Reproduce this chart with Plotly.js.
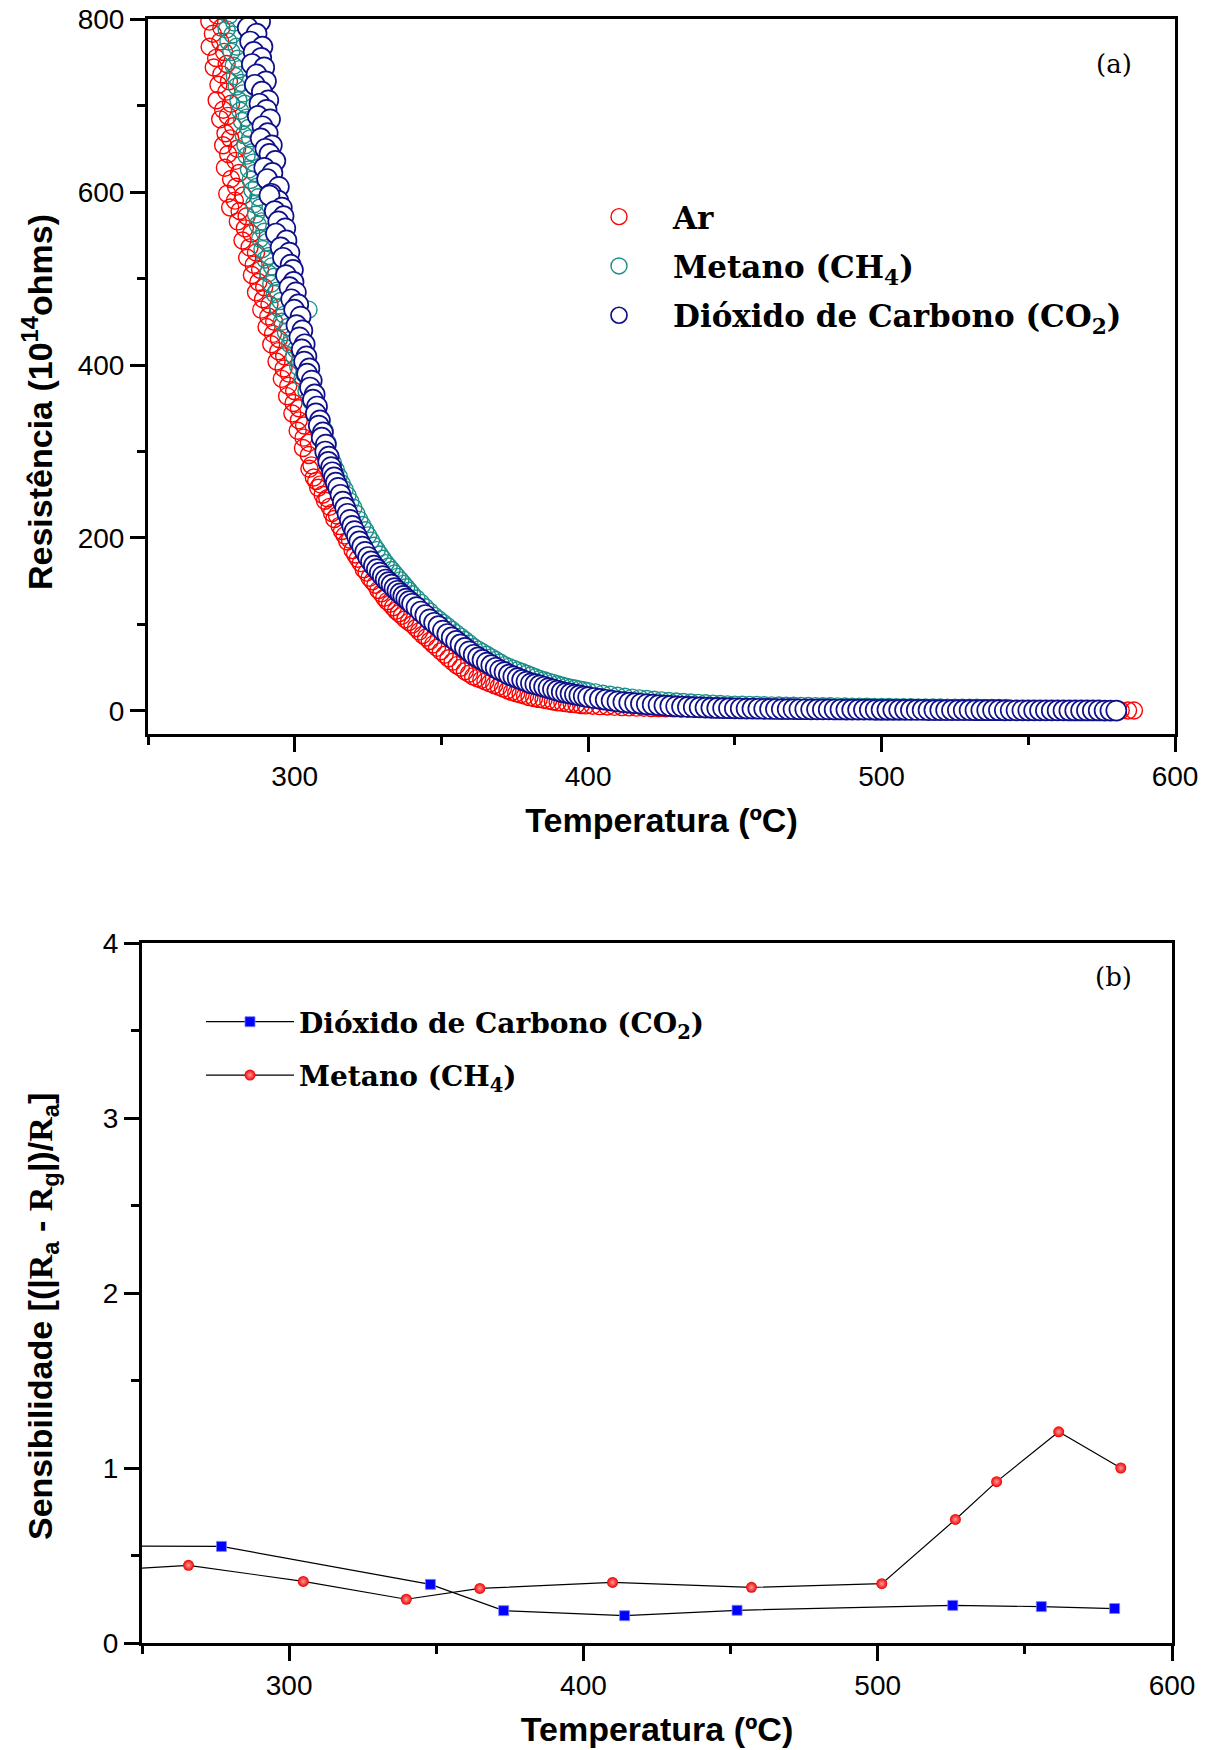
<!DOCTYPE html>
<html>
<head>
<meta charset="utf-8">
<script src="https://cdn.plot.ly/plotly-3.0.1.min.js"></script>
<style>html,body{margin:0;padding:0;background:#fff;}#chart{width:1212px;height:1750px;}</style>
</head>
<body>
<div id="chart"></div>
<script>
// ---------- (a) Resistance vs temperature ----------
const arTemp = [268.5,271.8,270.0,272.9,269.2,273.6,270.9,275.0,272.1,274.6,271.0,275.9,273.2,276.8,272.4,275.0,277.6,274.0,276.7,273.4,278.3,275.6,277.2,274.6,279.0,276.4,278.0,275.6,280.4,277.3,279.8,276.2,281.0,278.3,280.0,277.0,279.6,282.4,278.0,281.2,283.6,280.6,283.0,285.2,282.2,284.6,286.8,283.8,286.0,288.2,285.4,287.6,289.6,286.8,289.2,291.4,288.6,291.0,293.0,290.4,292.6,294.6,292.0,294.4,296.4,293.8,296.2,298.0,295.6,297.8,299.8,297.4,299.6,301.4,299.2,301.4,303.2,301.0,303.0,304.8,302.8,304.8,
  305.0,305.7,306.5,307.3,308.0,308.8,309.5,310.3,311.1,311.9,312.7,313.5,314.4,315.3,316.1,317.0,317.9,318.8,319.7,320.6,321.5,322.5,323.5,324.5,325.5,326.5,327.5,328.5,329.5,330.5,331.5,332.5,333.5,334.5,335.5,336.5,337.7,338.9,340.1,341.3,
  342.4,343.6,344.8,346.0,347.2,348.5,349.8,351.1,352.4,353.8,355.2,356.6,358.0,359.4,360.8,362.2,363.6,365.0,366.5,368.0,369.5,371.0,372.5,374.0,375.5,377.0,378.5,380.0,381.6,383.2,384.8,386.4,388.0,389.6,391.2,392.8,394.4,396.0,397.6,399.2,
  401.5,404,406.5,409,411.5,414,416.5,419,421.5,424,426.5,429,431.5,434,436.5,439,441.5,444,446.5,449,451.5,454,456.5,459,461.5,464,466.5,469,471.5,474,476.5,479,481.5,484,486.5,489,491.5,494,496.5,499,501.5,504,506.5,509,511.5,514,516.5,519,521.5,524,526.5,529,531.5,534,536.5,539,541.5,544,546.5,549,551.5,554,556.5,559,561.5,564,566.5,569,571.5,574,576.5,579,581.5,584,586];
const arRes = [842,836,826,818,812,804,797,790,783,774,768,762,755,748,744,736,728,724,716,706,702,695,688,684,676,668,662,654,650,644,636,628,622,615,606,598,590,596,582,578,572,566,558,552,544,536,530,524,516,510,504,496,490,484,476,470,464,456,450,444,436,430,424,416,410,404,396,390,384,376,370,364,356,350,344,336,330,324,316,310,304,296,
  280,284,270,266,258,262,250,243,246,236,229,222,226,214,208,203,196,198,186,181,176,171,164,160,154,150,146,140,136,131,127,124,120,116,113,110,106,103,100,96,
  92,88,85,81,77,73,69,65,61,57,53,50,46,43,40,38,36,34,32,30,28,26,24,22,20.5,19,17.5,16,15,14,13,12,11,10,9.4,8.8,8.2,7.6,7,6.5,
  6.0,5.6,5.2,4.8,4.5,4.2,3.9,3.7,3.5,3.3,3.1,3.0,2.8,2.7,2.6,2.5,2.4,2.3,2.2,2.1,2.0,1.9,1.9,1.8,1.7,1.7,1.6,1.6,1.5,1.5,1.4,1.4,1.3,1.3,1.3,1.2,1.2,1.2,1.1,1.1,1.1,1.0,1.0,1.0,1.0,0.9,0.9,0.9,0.9,0.8,0.8,0.8,0.8,0.8,0.7,0.7,0.7,0.7,0.7,0.7,0.6,0.6,0.6,0.6,0.6,0.6,0.6,0.5,0.5,0.5,0.5,0.5,0.5,0.5,0.5];

const ch4Temp = [275.0,277.2,276.4,278.6,275.8,277.6,279.4,276.8,278.8,277.4,280.2,278.4,280.6,279.2,281.2,279.6,281.8,280.2,282.4,280.8,283.0,281.4,283.6,282.0,284.2,282.6,284.8,283.2,285.4,283.6,285.8,284.4,286.4,285.0,287.0,285.6,287.6,286.2,288.2,286.8,288.8,287.4,289.6,288.2,290.4,289.0,291.2,290.0,292.2,291.0,293.0,292.0,294.0,293.2,295.2,294.4,304.7,296.4,295.6,297.6,297.0,299.0,298.4,300.4,299.8,301.8,301.2,303.2,302.6,304.6,304.0,306.0,305.6,307.4,307.0,308.8,308.4,310.2,309.8,311.2,
  313,314,315,316,317,318,319,320,321,322,323,324,325,326,327,328,329,330,331,332,333,334,335,336,337,338,339,340,
  341.5,343,344.5,346,347.5,349,350.5,352,353.5,355,356.5,358,359.5,361,362.5,364,365.5,367,368.5,370,371.5,373,374.5,376,377.5,379,380.5,382,383.5,385,386.5,388,389.5,391,392.5,394,395.5,397,398.5,400,
  402.5,405,407.5,410,412.5,415,417.5,420,422.5,425,427.5,430,432.5,435,437.5,440,442.5,445,447.5,450,452.5,455,457.5,460,462.5,465,467.5,470,472.5,475,477.5,480,482.5,485,487.5,490,492.5,495,497.5,500,502.5,505,507.5,510,512.5,515,517.5,520,522.5,525,527.5,530,532.5,535,537.5,540,542.5];
const ch4Res = [842,834,824,816,810,804,796,788,782,774,768,762,754,746,742,734,726,722,714,706,702,694,686,682,674,666,662,654,646,642,634,626,622,614,606,602,594,586,582,574,566,562,554,546,542,534,526,522,514,506,502,494,486,482,474,466,464,458,450,444,438,430,424,418,410,404,398,390,384,378,370,364,358,350,344,338,330,324,318,310,
  287,279,271,263,256,249,242,235,228,221,215,209,203,197,191,186,181,176,171,167,163,159,155,151,147,143,139,135,
  130,125,120,115,110,106,102,98,94,90,86,82,78,74,71,68,65,62,59,56,53,51,49,47,45,43,41,39,37,35.5,34,32.5,31,29.5,28,27,26,25,24,23,
  21.5,20,18.8,17.6,16.5,15.5,14.6,13.8,13,12.3,11.6,11,10.4,9.9,9.4,8.9,8.5,8.1,7.7,7.4,7.3,7.1,6.9,6.7,6.5,6.3,6.1,6.0,5.9,5.8,5.6,5.5,5.4,5.3,5.2,5.1,5.0,4.9,4.8,4.7,4.6,4.5,4.4,4.3,4.2,4.1,4.0,3.95,3.9,3.85,3.8,3.75,3.7,3.65,3.6,3.55,3.5];

const co2Temp = [283.0,286.2,284.8,287.4,282.6,285.6,288.2,284.0,287.0,284.8,289.0,286.0,288.6,285.4,289.6,287.0,290.2,286.4,288.8,291.0,288.0,290.4,287.4,291.6,289.0,290.8,288.4,292.2,290.0,291.4,293.4,289.6,292.4,290.6,294.6,292.0,294.4,291.4,295.6,293.2,296.2,294.4,296.8,293.6,297.2,295.2,298.2,296.0,298.6,299.4,297.0,299.6,298.2,300.4,298.8,301.2,299.8,302.0,
  300.6,302.6,301.6,303.4,302.4,304.0,303.2,305.0,304.2,305.8,305.2,306.8,306.2,307.6,307.2,308.6,308.2,309.6,309.2,310.6,310.4,311.6,311.4,312.4,312.8,313.4,314.0,314.8,315.6,316.4,317.2,318.0,318.8,319.6,320.4,321.2,322.0,323.0,324.0,325.0,326.0,327.0,328.0,329.0,330.0,331.0,332.0,333.0,334.0,335.0,336.0,337.0,338.0,339.0,340.0,
  341.5,343.0,344.5,346.0,347.5,349.0,350.5,352.0,353.5,355.0,356.5,358.0,359.5,361.0,362.5,364.0,365.5,367.0,368.5,370.0,371.5,373.0,374.5,376.0,377.5,379.0,380.5,382.0,383.5,385.0,386.5,388.0,389.5,391.0,392.5,394.0,395.5,397.0,398.5,400.0,
  402,404,406,408,410,412,414,416,418,420,422,424,426,428,430,432,434,436,438,440,442,444,446,448,450,452,454,456,458,460,462,464,466,468,470,472,474,476,478,480,482,484,486,488,490,492,494,496,498,500,502,504,506,508,510,512,514,516,518,520,522,524,526,528,530,532,534,536,538,540,542,544,546,548,550,552,554,556,558,560,562,564,566,568,570,572,574,576,578,580];
const co2Res = [842,836,826,818,812,804,797,790,783,774,768,762,755,748,744,736,728,724,716,706,702,695,688,684,676,668,662,654,650,644,636,628,622,615,606,598,590,596,582,578,572,566,558,552,544,536,530,524,516,510,504,496,490,484,476,470,464,456,
  446,440,432,424,418,410,404,396,390,382,374,366,360,352,344,336,330,322,316,308,300,294,288,282,276,270,264,258,250,242,235,228,221,214,208,202,196,190,184,178,173,168,164,160,156,152,149,146,142,139,136,133,130,127,124,
  120,115,111,106,102,98,93,89,85,81,77,73,69,65,62,59,56,53,50,47,45,42,40,38,36,34,32,31,29.5,28,26.5,25,23.5,22,21,20,19,18,17,16,
  15,14,13,12,11,10.3,9.6,9,8.4,7.8,7.3,6.8,6.3,5.8,5.4,5.0,4.7,4.4,4.1,3.9,3.7,3.5,3.3,3.2,3.0,2.9,2.8,2.7,2.6,2.5,2.4,2.3,2.2,2.2,2.1,2.0,2.0,1.9,1.9,1.8,1.8,1.7,1.7,1.6,1.6,1.5,1.5,1.5,1.4,1.4,1.4,1.3,1.3,1.3,1.2,1.2,1.2,1.1,1.1,1.1,1.1,1.0,1.0,1.0,1.0,0.9,0.9,0.9,0.9,0.9,0.8,0.8,0.8,0.8,0.8,0.7,0.7,0.7,0.7,0.7,0.7,0.6,0.6,0.6,0.6,0.6,0.6,0.5,0.5,0.5];

// ---------- (b) Sensitivity vs temperature ----------
const sensCo2Temp = [235, 277.0, 348.0, 372.9, 414.0, 452.2, 525.5, 555.6, 580.5];
const sensCo2 = [0.554, 0.552, 0.335, 0.185, 0.156, 0.187, 0.215, 0.208, 0.197];
const sensCh4Temp = [235, 265.8, 304.8, 339.8, 364.8, 409.9, 457.1, 501.4, 526.4, 540.4, 561.5, 582.6];
const sensCh4 = [0.413, 0.444, 0.352, 0.250, 0.312, 0.346, 0.318, 0.339, 0.706, 0.922, 1.207, 1.000];

const names = {
  ar: 'Ar',
  ch4: 'Metano (CH<sub>4</sub>)',
  co2: 'Dióxido de Carbono (CO<sub>2</sub>)'
};
const titles = {
  temp: 'Temperatura (ºC)',
  res: 'Resistência (10<sup>14</sup>ohms)',
  sens: 'Sensibilidade [(|<span style="font-family:Liberation Serif">R</span><sub>a</sub> - <span style="font-family:Liberation Serif">R</span><sub>g</sub>|)/<span style="font-family:Liberation Serif">R</span><sub>a</sub>]'
};

const W = 1212, H = 1750;
const px = v => v / W;
const py = v => 1 - v / H;

const sansFont = 'Liberation Sans, Arial, sans-serif';
const serifFont = 'DejaVu Serif, Liberation Serif, serif';

const traces = [
  {x: arTemp, y: arRes, name: names.ar, type: 'scatter', mode: 'markers', xaxis: 'x', yaxis: 'y', legend: 'legend', legendgroup: 'a1',
   marker: {symbol: 'circle-open', size: 17, color: '#ff0000', line: {width: 1.4}}},
  {x: ch4Temp, y: ch4Res, name: names.ch4, type: 'scatter', mode: 'markers', xaxis: 'x', yaxis: 'y', legend: 'legend', legendgroup: 'a2',
   marker: {symbol: 'circle-open', size: 17, color: '#1b8f88', line: {width: 1.4}}},
  {x: co2Temp, y: co2Res, name: names.co2, type: 'scatter', mode: 'markers', xaxis: 'x', yaxis: 'y', legend: 'legend', legendgroup: 'a3',
   marker: {symbol: 'circle', size: 20, color: '#ffffff', line: {width: 1.7, color: '#10108a'}}},
  {x: sensCo2Temp, y: sensCo2, name: names.co2, type: 'scatter', mode: 'lines+markers', xaxis: 'x2', yaxis: 'y2', legend: 'legend2', legendgroup: 'b1',
   line: {color: '#000000', width: 1.2}, marker: {symbol: 'square', size: 10, color: '#0000ff', line: {width: 0.8, color: '#8080ff'}}},
  {x: sensCh4Temp, y: sensCh4, name: names.ch4, type: 'scatter', mode: 'lines+markers', xaxis: 'x2', yaxis: 'y2', legend: 'legend2', legendgroup: 'b2',
   line: {color: '#000000', width: 1.2}, marker: {symbol: 'circle', size: 11, color: '#ee0000', gradient: {type: 'radial', color: '#ff9a9a'}, line: {width: 0}}}
];

const axisCommon = {
  showgrid: false, zeroline: false, showline: true, linecolor: '#000', linewidth: 3, mirror: true,
  ticks: 'outside', ticklen: 15, tickwidth: 3, tickcolor: '#000',
  tickfont: {family: sansFont, size: 28, color: '#000'}
};
const titleFont = {family: sansFont, size: 34, color: '#000', weight: 700};
const minorTicks = d => ({dtick: d, ticklen: 8, tickwidth: 3, tickcolor: '#000', ticks: 'outside'});

const layout = {
  width: W, height: H,
  margin: {l: 0, r: 0, t: 0, b: 0},
  paper_bgcolor: '#fff', plot_bgcolor: '#fff',
  showlegend: true,
  xaxis: Object.assign({}, axisCommon, {
    domain: [px(148), px(1175)], anchor: 'y', range: [250, 600], dtick: 100, tick0: 0, minor: minorTicks(50),
    title: {text: titles.temp, font: titleFont, standoff: 18}
  }),
  yaxis: Object.assign({}, axisCommon, {
    domain: [py(734), py(19)], anchor: 'x', range: [-26.6, 800], dtick: 200, tick0: 0, minor: minorTicks(100)
  }),
  xaxis2: Object.assign({}, axisCommon, {
    domain: [px(142), px(1172)], anchor: 'y2', range: [250, 600], dtick: 100, tick0: 0, minor: minorTicks(50),
    title: {text: titles.temp, font: titleFont, standoff: 18}
  }),
  yaxis2: Object.assign({}, axisCommon, {
    domain: [py(1643), py(943)], anchor: 'x2', range: [0, 4], dtick: 1, tick0: 0, minor: minorTicks(0.5)
  }),
  legend: {
    x: px(565), y: py(190), xanchor: 'left', yanchor: 'top',
    bgcolor: 'rgba(0,0,0,0)', borderwidth: 0,
    font: {family: serifFont, size: 31, color: '#000', weight: 700},
    itemwidth: 98, tracegroupgap: 6
  },
  legend2: {
    x: px(201), y: py(997), xanchor: 'left', yanchor: 'top',
    bgcolor: 'rgba(0,0,0,0)', borderwidth: 0,
    font: {family: serifFont, size: 28, color: '#000', weight: 700},
    itemwidth: 88, tracegroupgap: 14
  },
  annotations: [
    {text: titles.res, xref: 'paper', yref: 'paper', x: px(37), y: py(402), xanchor: 'center', yanchor: 'middle', textangle: -90, showarrow: false,
     font: titleFont},
    {text: titles.sens, xref: 'paper', yref: 'paper', x: px(42), y: py(1317), xanchor: 'center', yanchor: 'middle', textangle: -90, showarrow: false,
     font: titleFont},
    {text: '(a)', xref: 'paper', yref: 'paper', x: px(1114), y: py(64), xanchor: 'center', yanchor: 'middle', showarrow: false,
     font: {family: serifFont, size: 26, color: '#000'}},
    {text: '(b)', xref: 'paper', yref: 'paper', x: px(1113), y: py(977), xanchor: 'center', yanchor: 'middle', showarrow: false,
     font: {family: serifFont, size: 26, color: '#000'}}
  ]
};

Plotly.newPlot('chart', traces, layout, {displayModeBar: false, staticPlot: true});
</script>
</body>
</html>
